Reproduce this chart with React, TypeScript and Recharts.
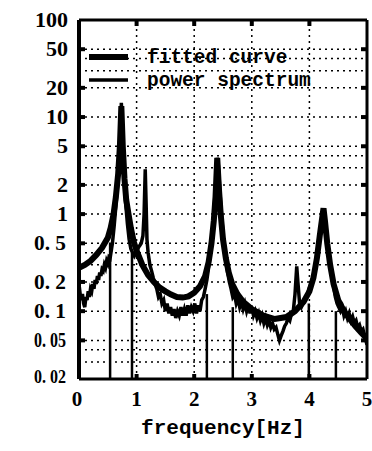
import React from 'react';
import { LineChart, Line, XAxis, YAxis, ReferenceLine, Legend, Label } from 'recharts';

const seriesNames = ['fitted curve', 'power spectrum'];

const fittedFreq = [0, 0.1, 0.2, 0.3, 0.4, 0.5, 0.55, 0.6, 0.64, 0.68, 0.71, 0.735, 0.76, 0.79, 0.82, 0.86, 0.9, 0.95, 1.0, 1.1, 1.2, 1.3, 1.4, 1.5, 1.6, 1.7, 1.8, 1.9, 2.0, 2.1, 2.19, 2.25, 2.3, 2.34, 2.37, 2.4, 2.43, 2.46, 2.5, 2.55, 2.6, 2.66, 2.75, 2.85, 3.0, 3.2, 3.4, 3.6, 3.75, 3.9, 4.0, 4.07, 4.13, 4.18, 4.22, 4.245, 4.27, 4.31, 4.36, 4.42, 4.5, 4.6, 4.7, 4.8, 4.9, 5.0];
const fittedValue = [0.28, 0.3, 0.33, 0.38, 0.45, 0.57, 0.72, 1.0, 1.5, 2.6, 5, 13, 5, 2.3, 1.4, 1.0, 0.72, 0.52, 0.42, 0.3, 0.235, 0.2, 0.175, 0.16, 0.148, 0.14, 0.138, 0.142, 0.155, 0.18, 0.23, 0.32, 0.5, 0.85, 1.5, 3.8, 1.8, 1.0, 0.55, 0.35, 0.25, 0.19, 0.15, 0.125, 0.105, 0.09, 0.083, 0.087, 0.1, 0.125, 0.16, 0.22, 0.35, 0.6, 0.9, 1.15, 0.85, 0.5, 0.3, 0.19, 0.13, 0.1, 0.083, 0.07, 0.06, 0.052];

const spectrumFreq = [0.0, 0.02, 0.04, 0.06, 0.08, 0.1, 0.12, 0.14, 0.16, 0.18, 0.2, 0.22, 0.24, 0.26, 0.28, 0.3, 0.32, 0.34, 0.36, 0.38, 0.4, 0.42, 0.44, 0.46, 0.48, 0.5, 0.52, 0.54, 0.56, 0.58, 0.61, 0.64, 0.67, 0.7, 0.72, 0.735, 0.75, 0.77, 0.79, 0.81, 0.84, 0.87, 0.9, 0.93, 0.96, 0.99, 1.02, 1.05, 1.08, 1.11, 1.13, 1.15, 1.165, 1.18, 1.2, 1.23, 1.26, 1.29, 1.32, 1.35, 1.38, 1.41, 1.44, 1.47, 1.5, 1.53, 1.56, 1.59, 1.62, 1.65, 1.68, 1.71, 1.74, 1.77, 1.8, 1.83, 1.86, 1.89, 1.92, 1.95, 1.98, 2.01, 2.04, 2.07, 2.1, 2.13, 2.16, 2.19, 2.22, 2.25, 2.28, 2.31, 2.34, 2.37, 2.4, 2.42, 2.44, 2.46, 2.49, 2.52, 2.55, 2.58, 2.61, 2.64, 2.67, 2.7, 2.73, 2.76, 2.79, 2.82, 2.85, 2.88, 2.91, 2.94, 2.97, 3.0, 3.03, 3.06, 3.09, 3.12, 3.15, 3.18, 3.21, 3.24, 3.27, 3.3, 3.33, 3.36, 3.39, 3.42, 3.45, 3.48, 3.51, 3.54, 3.57, 3.6, 3.63, 3.66, 3.69, 3.72, 3.75, 3.78, 3.8, 3.83, 3.86, 3.89, 3.92, 3.95, 3.98, 4.01, 4.04, 4.07, 4.1, 4.13, 4.16, 4.19, 4.22, 4.245, 4.27, 4.3, 4.33, 4.36, 4.39, 4.42, 4.45, 4.48, 4.51, 4.54, 4.57, 4.6, 4.63, 4.66, 4.69, 4.72, 4.75, 4.78, 4.81, 4.84, 4.87, 4.9, 4.93, 4.96, 4.98, 5.0];
const spectrumValue = [0.19, 0.15, 0.13, 0.15, 0.12, 0.11, 0.14, 0.13, 0.16, 0.14, 0.17, 0.16, 0.19, 0.17, 0.21, 0.19, 0.23, 0.21, 0.25, 0.23, 0.27, 0.26, 0.3, 0.28, 0.33, 0.31, 0.36, 0.35, 0.42, 0.5, 0.75, 1.2, 2.0, 3.6, 6.5, 14, 9, 4.5, 2.2, 1.3, 0.8, 0.55, 0.44, 0.4, 0.37, 0.4, 0.44, 0.47, 0.5, 0.6, 1.0, 2.9, 1.3, 0.55, 0.4, 0.3, 0.26, 0.22, 0.19, 0.17, 0.14, 0.15, 0.12, 0.13, 0.1, 0.12, 0.095, 0.11, 0.09, 0.105, 0.085, 0.1, 0.09, 0.11, 0.09, 0.105, 0.09, 0.115, 0.095, 0.11, 0.1, 0.12, 0.095, 0.115, 0.1, 0.13, 0.14, 0.17, 0.21, 0.28, 0.4, 0.6, 1.0, 1.9, 3.8, 3.2, 2.0, 1.3, 0.75, 0.45, 0.32, 0.25, 0.2, 0.17, 0.14, 0.15, 0.12, 0.135, 0.11, 0.125, 0.105, 0.12, 0.1, 0.115, 0.095, 0.11, 0.09, 0.1, 0.085, 0.095, 0.08, 0.09, 0.075, 0.085, 0.072, 0.08, 0.068, 0.075, 0.065, 0.068, 0.058, 0.05, 0.056, 0.062, 0.07, 0.075, 0.085, 0.08, 0.095, 0.1, 0.15, 0.29, 0.2, 0.12, 0.11, 0.12, 0.13, 0.14, 0.16, 0.18, 0.2, 0.23, 0.28, 0.37, 0.5, 0.7, 0.95, 1.15, 0.9, 0.6, 0.42, 0.3, 0.23, 0.18, 0.14, 0.12, 0.11, 0.1, 0.11, 0.09, 0.1, 0.085, 0.095, 0.08, 0.088, 0.075, 0.08, 0.068, 0.072, 0.062, 0.065, 0.055, 0.05, 0.045];

const xTicks = [0, 1, 2, 3, 4, 5];
const xTickLabels = ['0', '1', '2', '3', '4', '5'];
const yTicks = [0.02, 0.05, 0.1, 0.2, 0.5, 1, 2, 5, 10, 20, 50, 100];
const yTickLabels = ['0. 02', '0. 05', '0. 1', '0. 2', '0. 5', '1', '2', '5', '10', '20', '50', '100'];
const gridY = [0.03, 0.04, 0.05, 0.1, 0.2, 0.3, 0.4, 0.5, 1, 2, 3, 4, 5, 10, 20, 30, 40, 50];
const gridX = [1, 2, 3, 4];
const bandEdges = [0.54, 0.92, 2.22, 2.67, 3.99, 4.46];
const bandTops = [0.5, 0.4, 0.15, 0.11, 0.12, 0.1];
const xLabel = 'frequency[Hz]';

const fittedData = fittedFreq.map((f, i) => ({ f, v: fittedValue[i] }));
const spectrumData = spectrumFreq.map((f, i) => ({ f, v: spectrumValue[i] }));

const FONT_NUM = '"Liberation Serif", serif';
const FONT_MONO = '"Liberation Mono", monospace';

const YTick = (props: any) => {
  const { y, payload } = props;
  const idx = yTicks.indexOf(payload.value);
  const label = idx >= 0 ? yTickLabels[idx] : String(payload.value);
  const decimal = label.includes('.');
  const w = decimal ? 32 : label.length * 11;
  const isBottom = idx === 0;
  return (
    <text x={decimal ? 66 : 68} y={y + (isBottom ? 4 : 7)} textAnchor="end" fontFamily={FONT_NUM} fontWeight="bold" fontSize={isBottom ? 19 : 21}
      fill="#000" textLength={w} lengthAdjust="spacingAndGlyphs">{label}</text>
  );
};

const XTick = (props: any) => {
  const { x, payload } = props;
  const idx = xTicks.indexOf(payload.value);
  const label = idx >= 0 ? xTickLabels[idx] : String(payload.value);
  return (
    <text x={x - (payload.value === 0 ? 2 : 0)} y={406} textAnchor="middle" fontFamily={FONT_NUM} fontWeight="bold"
      fontSize={21} fill="#000">{label}</text>
  );
};

const EmptyTick = () => <g />;

const renderLegend = (props: any) => {
  const payload = props.payload || [];
  return (
    <svg width={372} height={100} style={{ display: 'block', overflow: 'visible' }}>
      {payload.map((p: any, i: number) => (
        <g key={i}>
          <line x1={89} x2={128} y1={57 + i * 23} y2={57 + i * 23} stroke="#000" strokeWidth={i === 0 ? 6 : 3.5} />
          <text x={147} y={63 + i * 23} fontFamily={FONT_MONO} fontWeight="bold" fontSize={19.5} fill="#000">{p.value}</text>
        </g>
      ))}
    </svg>
  );
};

export default function App() {
  return (
    <div style={{ position: 'absolute', left: 0, top: 0, background: '#fff' }}>
      <LineChart width={372} height={451} margin={{ top: 20, right: 5, bottom: 0, left: 0 }}>
        <XAxis xAxisId={0} type="number" dataKey="f" domain={[0, 5]} ticks={xTicks} allowDataOverflow
          height={72} tickLine={false} axisLine={{ stroke: '#000', strokeWidth: 3 }} tick={<XTick />}>
          <Label value={xLabel} position="insideBottom" offset={17} fontFamily={FONT_MONO} fontWeight="bold" fontSize={21} fill="#000" />
        </XAxis>
        <XAxis xAxisId="bm" type="number" dataKey="f" domain={[0, 5]} ticks={gridX} allowDataOverflow mirror
          orientation="bottom" tickSize={5} tickLine={{ stroke: '#000', strokeWidth: 4 }} axisLine={false} tick={<EmptyTick />} />
        <XAxis xAxisId="t" type="number" dataKey="f" domain={[0, 5]} ticks={gridX} allowDataOverflow mirror
          orientation="top" tickSize={6} tickLine={{ stroke: '#000', strokeWidth: 4 }} axisLine={{ stroke: '#000', strokeWidth: 3 }} tick={<EmptyTick />} />
        <YAxis yAxisId={0} type="number" scale="log" domain={[0.02, 100]} ticks={yTicks} allowDataOverflow
          width={79} tickLine={false} axisLine={{ stroke: '#000', strokeWidth: 4 }} tick={<YTick />} />
        <YAxis yAxisId="lm" type="number" scale="log" domain={[0.02, 100]} ticks={gridY} allowDataOverflow mirror
          orientation="left" tickSize={6} tickLine={{ stroke: '#000', strokeWidth: 4 }} axisLine={false} tick={<EmptyTick />} />
        <YAxis yAxisId="r" type="number" scale="log" domain={[0.02, 100]} ticks={gridY} allowDataOverflow mirror
          orientation="right" tickSize={6} tickLine={{ stroke: '#000', strokeWidth: 4 }} axisLine={{ stroke: '#000', strokeWidth: 3 }} tick={<EmptyTick />} />
        {gridY.map((v) => (
          <ReferenceLine key={'gy' + v} y={v} stroke="#000" strokeWidth={1.5} strokeDasharray="2 4" />
        ))}
        {gridX.map((v) => (
          <ReferenceLine key={'gx' + v} x={v} stroke="#000" strokeWidth={1.5} strokeDasharray="2 4" />
        ))}
        {bandEdges.map((f, i) => (
          <ReferenceLine key={'b' + i} segment={[{ x: f, y: 0.02 }, { x: f, y: bandTops[i] }]} stroke="#000" strokeWidth={2.5} />
        ))}
        <Line name={seriesNames[1]} data={spectrumData} dataKey="v" type="linear" stroke="#000" strokeWidth={3.5}
          dot={false} isAnimationActive={false} />
        <Line name={seriesNames[0]} data={fittedData} dataKey="v" type="linear" stroke="#000" strokeWidth={6}
          dot={false} isAnimationActive={false} />
        <Legend layout="horizontal" verticalAlign="middle" align="center" content={renderLegend}
          payload={undefined} wrapperStyle={{ left: 0, top: 0, width: 372, height: 100 }} />
      </LineChart>
    </div>
  );
}
